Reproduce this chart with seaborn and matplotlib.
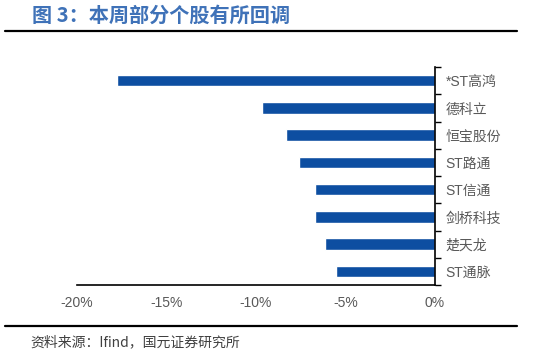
import matplotlib
matplotlib.use("Agg")
import matplotlib.pyplot as plt
from matplotlib.lines import Line2D
from matplotlib.ticker import FuncFormatter, FixedLocator
import pandas as pd
import seaborn as sns

# data (weekly change, %)
stocks = ["*ST高鸿", "德科立", "恒宝股份", "ST路通", "ST信通", "剑桥科技", "楚天龙", "ST通脉"]
changes = [-17.75, -9.65, -8.3, -7.58, -6.7, -6.7, -6.14, -5.49]
x_ticks = [-20, -15, -10, -5, 0]

title_text = "图 3：本周部分个股有所回调"
source_text = "资料来源：Ifind，国元证券研究所"

bar_color = "#0d4ea1"
title_color = "#3f72b8"
label_color = "#595959"

sns.set_theme(style="white")
plt.rcParams["font.family"] = ["Liberation Sans", "Noto Sans CJK SC", "DejaVu Sans"]

df = pd.DataFrame({"stock": stocks, "change": changes})

fig = plt.figure(figsize=(5.33, 3.55), dpi=100)
ax = fig.add_axes([0.1445, 0.197, 0.671, 0.614])

sns.barplot(data=df, x="change", y="stock", color=bar_color, width=0.42,
            saturation=1, ax=ax)

ax.set_xlim(-20, 0)
ax.xaxis.set_major_locator(FixedLocator(x_ticks))
ax.xaxis.set_major_formatter(FuncFormatter(lambda v, p: f"{v:.0f}%"))
ax.set_xlabel("")
ax.set_ylabel("")

# y axis on the right, ticks between categories
ax.yaxis.tick_right()
ax.yaxis.set_label_position("right")
ax.set_yticks([i + 0.5 for i in range(-1, len(stocks))], minor=True)
ax.tick_params(axis="y", which="major", length=0, pad=8, labelsize=10,
               labelcolor=label_color)
ax.tick_params(axis="y", which="minor", length=4, width=1, color="black",
               direction="out", right=True, left=False)
ax.tick_params(axis="x", which="major", length=4, width=1, color="black",
               direction="in", pad=8, labelsize=10, labelcolor=label_color)

for side in ["top", "left"]:
    ax.spines[side].set_visible(False)
ax.spines["right"].set_position(("data", 0))
for side in ["bottom", "right"]:
    ax.spines[side].set_color("black")
    ax.spines[side].set_linewidth(1.2)

# header and footer
fig.text(32 / 533, 1 - 15 / 355, title_text, color=title_color, fontsize=14.5,
         fontweight="bold", va="center", ha="left",
         family=["Noto Sans CJK SC", "DejaVu Sans"])
fig.add_artist(Line2D([5 / 533, 517 / 533], [1 - 31 / 355, 1 - 31 / 355],
                      color="black", linewidth=1.6))
fig.add_artist(Line2D([5 / 533, 517 / 533], [1 - 326 / 355, 1 - 326 / 355],
                      color="black", linewidth=1.6))
fig.text(30 / 533, 1 - 342 / 355, source_text, color="#404040", fontsize=10,
         va="center", ha="left", family=["Noto Sans CJK SC", "DejaVu Sans"])

fig.savefig("out.png", dpi=100)
